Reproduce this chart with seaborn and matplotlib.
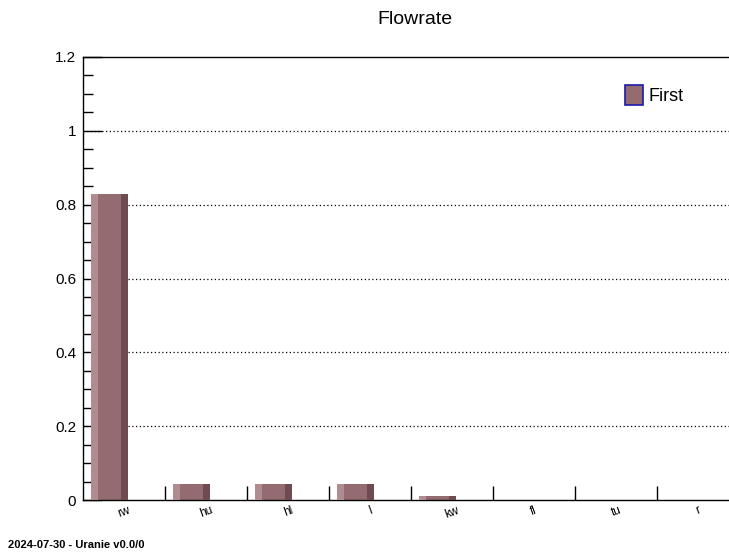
import matplotlib
matplotlib.use("Agg")
import matplotlib.pyplot as plt
import seaborn as sns
import pandas as pd
from matplotlib.patches import Patch
from matplotlib.ticker import MultipleLocator, FixedLocator

categories = ["rw", "hu", "hl", "l", "kw", "fl", "tu", "r"]
values = [0.83, 0.043, 0.043, 0.043, 0.011, 0.0, 0.0, 0.0]
series_name = "First"
title = "Flowrate"
footer = "2024-07-30 - Uranie v0.0/0"

df = pd.DataFrame({"cat": categories, "val": values})

sns.set_theme(style="white")
plt.rcParams["font.family"] = ["Liberation Sans", "DejaVu Sans"]
plt.rcParams["text.color"] = "black"
plt.rcParams["xtick.color"] = "black"
plt.rcParams["ytick.color"] = "black"

mid_c = "#956b72"
light_c = "#b08c91"
dark_c = "#6d4b51"

fig = plt.figure(figsize=(7.29, 5.54), dpi=100)
ax = fig.add_axes([83 / 729, 1 - 500 / 554, (739 - 83) / 729, (500 - 57) / 554])

# grid
for g in [0.2, 0.4, 0.6, 0.8, 1.0]:
    ax.axhline(g, color="black", lw=0.9, ls=(0, (1, 2)), zorder=0)

bw = 0.45
shift = -0.175
sns.barplot(data=df, x="cat", y="val", color=mid_c, width=bw, saturation=1,
            ax=ax, zorder=2, edgecolor="none", linewidth=0)
sw = bw * 7 / 37
for i, p in enumerate(list(ax.patches)):
    p.set_x(p.get_x() + shift)
    x0 = p.get_x()
    h = p.get_height()
    ax.bar(x0, h, width=sw, align="edge", color=light_c, lw=0, zorder=3)
    ax.bar(x0 + bw - sw, h, width=sw, align="edge", color=dark_c, lw=0, zorder=3)

ax.set_xlim(-0.5, 7.5)
ax.set_ylim(0, 1.2)
ax.set_xlabel("")
ax.set_ylabel("")

for s in ["left", "bottom", "top", "right"]:
    ax.spines[s].set_color("black")
    ax.spines[s].set_linewidth(1.0)

ax.xaxis.set_major_locator(FixedLocator(range(len(categories))))
ax.set_xticklabels(categories, rotation=20, fontsize=8.5, ha="center", color="black")
ax.xaxis.set_minor_locator(FixedLocator([i + 0.5 for i in range(len(categories))]))
ax.tick_params(axis="x", which="major", length=0, pad=3, bottom=True)
ax.tick_params(axis="x", which="minor", direction="in", length=10, width=1,
               color="black", bottom=True)

ax.set_yticks([0, 0.2, 0.4, 0.6, 0.8, 1.0, 1.2])
ax.yaxis.set_minor_locator(MultipleLocator(0.05))
ax.set_yticklabels(["0", "0.2", "0.4", "0.6", "0.8", "1", "1.2"], fontsize=11, color="black")
ax.tick_params(axis="y", which="major", direction="in", length=13.5, width=1, pad=5,
               color="black", left=True)
ax.tick_params(axis="y", which="minor", direction="in", length=7, width=1,
               color="black", left=True)

fig.text(415 / 729, 1 - 20 / 554, title, ha="center", va="center", fontsize=14)

handle = Patch(facecolor=mid_c, edgecolor="#1a1aa8", linewidth=1.2)
fig.legend(handles=[handle], labels=[series_name], loc="center left",
           bbox_to_anchor=(616 / 729, 1 - 95 / 554), frameon=False, fontsize=13,
           handlelength=1.0, handleheight=1.4, handletextpad=0.3, borderpad=0)

fig.text(8 / 729, 1 - 545 / 554, footer, ha="left", va="center", fontsize=8, fontweight="bold")

fig.savefig("out.png", dpi=100)
